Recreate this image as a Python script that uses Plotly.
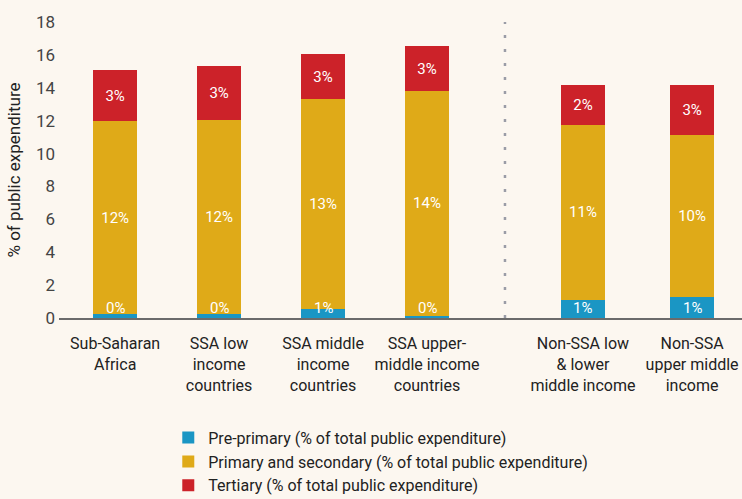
import plotly.graph_objects as go

# Public expenditure on education by level, share of total public expenditure (%)
categories = [
    "Sub-Saharan<br>Africa",
    "SSA low<br>income<br>countries",
    "SSA middle<br>income<br>countries",
    "SSA upper-<br>middle income<br>countries",
    "Non-SSA low<br>& lower<br>middle income",
    "Non-SSA<br>upper middle<br>income",
]
x_pos = [0, 1, 2, 3, 4.5, 5.55]
pre_primary = [0.25, 0.25, 0.55, 0.14, 1.11, 1.30]
primary_secondary = [11.70, 11.80, 12.77, 13.66, 10.63, 9.85]
tertiary = [3.13, 3.30, 2.72, 2.73, 2.43, 3.02]
y_ticks = [0, 2, 4, 6, 8, 10, 12, 14, 16, 18]
separator_x = 3.75

FONT = "Roboto, Liberation Sans, sans-serif"
BG = "#fcf7f0"


def fnt(size, color):
    return dict(family=FONT, size=size, color=color)


def pct(v):
    return f"{int(v + 0.5)}%"


series = [
    ("Pre-primary (% of total public expenditure)", pre_primary, "#1a96c4", False),
    ("Primary and secondary (% of total public expenditure)", primary_secondary, "#dfaa18", True),
    ("Tertiary (% of total public expenditure)", tertiary, "#cc2229", True),
]

fig = go.Figure()
for name, vals, color, inside_labels in series:
    fig.add_trace(go.Bar(
        x=x_pos, y=vals, name=name,
        marker=dict(color=color, line=dict(width=0)),
        width=0.42,
        text=[pct(v) for v in vals] if inside_labels else None,
        textposition="inside" if inside_labels else "none",
        insidetextanchor="middle",
        textangle=0,
        textfont=fnt(15, "white"),
    ))

# Pre-primary segments are thin, so their labels sit on the bar base
for xp, v in zip(x_pos, pre_primary):
    fig.add_annotation(
        x=xp, y=0, xref="x", yref="y", yanchor="bottom",
        text=pct(v), showarrow=False, yshift=-1,
        font=fnt(15, "white"),
    )

fig.add_shape(
    type="line", xref="x", yref="y",
    x0=separator_x, x1=separator_x, y0=0, y1=18,
    line=dict(color="#9a9ca6", width=2.5, dash="3px,11px"),
    layer="below",
)

fig.update_layout(
    barmode="stack",
    width=742, height=499,
    margin=dict(l=59, r=0, t=22, b=181, autoexpand=False),
    paper_bgcolor=BG, plot_bgcolor=BG,
    font=fnt(16, "#333333"),
    uniformtext=dict(minsize=15, mode="show"),
    showlegend=True,
    legend=dict(
        orientation="v", x=0.16, xanchor="left", y=-0.347, yanchor="top",
        font=fnt(16, "#222222"),
        bgcolor="rgba(0,0,0,0)", traceorder="normal",
        itemwidth=30,
    ),
    xaxis=dict(
        tickmode="array", tickvals=x_pos, ticktext=categories,
        range=[-0.54, 6.03], showgrid=False, zeroline=False,
        showline=True, linecolor="#6b6b6b", linewidth=2,
        ticks="", tickangle=0, automargin=False, ticklabelstandoff=10,
        tickfont=fnt(16, "#222222"),
    ),
    yaxis=dict(
        range=[0, 18], tickvals=y_ticks, showgrid=False, zeroline=False,
        showline=False, ticks="", automargin=False, ticklabelstandoff=3,
        tickfont=fnt(17, "#444444"),
        title=dict(text="% of public expenditure", standoff=10,
                   font=fnt(17, "#222222")),
    ),
)

fig.write_html("out.html")
